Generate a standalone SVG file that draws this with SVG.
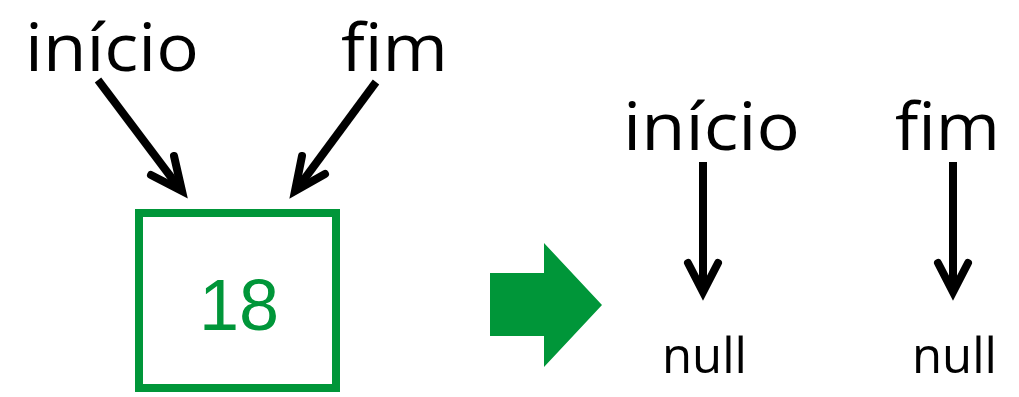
<svg xmlns="http://www.w3.org/2000/svg" width="1019" height="397" viewBox="0 0 1019 397">
  <style>
    .lbl { font-family: "Open Sans", "Noto Sans", "DejaVu Sans", sans-serif; fill: #000; }
    .big { font-size: 66px; }
    .nul { font-size: 50px; }
    .ptr { fill: none; stroke: #000; stroke-width: 8; stroke-linecap: butt; stroke-linejoin: miter; }
    .head { fill: none; stroke: #000; stroke-width: 8; stroke-linecap: round; stroke-linejoin: miter; }
  </style>
  <rect width="1019" height="397" fill="#fff"/>

  <!-- before: single node referenced by both pointers -->
  <g id="label-inicio-1"><text class="lbl big" x="25" y="71" textLength="174" lengthAdjust="spacingAndGlyphs">início</text></g>
  <g id="label-fim-1"><text class="lbl big" x="341" y="71" textLength="107" lengthAdjust="spacingAndGlyphs">fim</text></g>
  <g id="node-18">
    <rect x="139" y="213" width="197" height="175" fill="none" stroke="#009639" stroke-width="8"/>
    <text x="239" y="330" text-anchor="middle" font-family="Liberation Sans, Arial, sans-serif" font-size="72" fill="#009639">18</text>
  </g>

  <!-- transition arrow -->
  <g id="transition">
    <polygon points="490,273 544,273 544,243 602,305 544,367 544,336 490,336" fill="#009639"/>
  </g>

  <!-- after: both pointers are null -->
  <g id="label-inicio-2"><text class="lbl big" x="623" y="150" textLength="177" lengthAdjust="spacingAndGlyphs">início</text></g>
  <g id="label-fim-2"><text class="lbl big" x="895" y="150" textLength="105" lengthAdjust="spacingAndGlyphs">fim</text></g>
  <g id="null-1"><text class="lbl nul" x="662" y="373" textLength="85" lengthAdjust="spacingAndGlyphs">null</text></g>
  <g id="null-2"><text class="lbl nul" x="912" y="373" textLength="85" lengthAdjust="spacingAndGlyphs">null</text></g>

  <g id="connectors">
    <line class="ptr" x1="98" y1="80" x2="180" y2="189"/>
    <polyline class="head" points="151,175 182,191 174,156"/>
    <line class="ptr" x1="376" y1="82" x2="297" y2="189"/>
    <polyline class="head" points="302,156 295,191 325,174"/>
    <line class="ptr" x1="703" y1="162" x2="703" y2="290"/>
    <polyline class="head" points="688,263 703,292 718,263"/>
    <line class="ptr" x1="953" y1="162" x2="953" y2="290"/>
    <polyline class="head" points="938,263 953,292 968,263"/>
  </g>
</svg>
